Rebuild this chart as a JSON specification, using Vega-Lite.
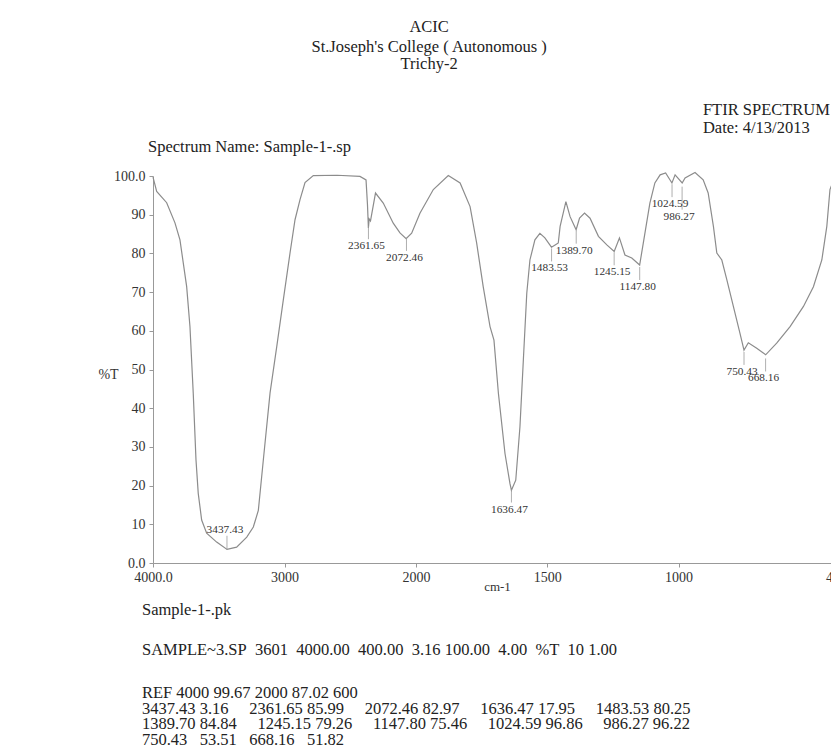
{
  "$schema": "https://vega.github.io/schema/vega-lite/v6.json",
  "autosize": {"type": "none"},
  "width": 678,
  "height": 387,
  "padding": {"left": 153, "top": 176, "right": 0, "bottom": 189},
  "background": "white",
  "config": {
    "view": {"stroke": null},
    "font": "Liberation Serif",
    "axis": {
      "labelFont": "Liberation Serif",
      "labelColor": "#333",
      "labelFontSize": 14,
      "titleFont": "Liberation Serif",
      "titleFontWeight": "normal",
      "titleColor": "#333",
      "domainColor": "#999",
      "tickColor": "#999",
      "tickSize": 4,
      "grid": false,
      "labelOverlap": false,
      "labelFlush": false
    }
  },
  "datasets": {
    "curve": [
      {"wn": 4000, "t": 99.7}, {"wn": 3972, "t": 96.0}, {"wn": 3896, "t": 93.1}, {"wn": 3833, "t": 87.9},
      {"wn": 3795, "t": 83.5}, {"wn": 3744, "t": 71.4}, {"wn": 3719, "t": 61.1}, {"wn": 3694, "t": 43.9},
      {"wn": 3673, "t": 26.6}, {"wn": 3656, "t": 18.0}, {"wn": 3630, "t": 11.1}, {"wn": 3592, "t": 7.7},
      {"wn": 3516, "t": 5.4}, {"wn": 3437, "t": 3.5}, {"wn": 3364, "t": 4.1}, {"wn": 3287, "t": 6.7},
      {"wn": 3237, "t": 9.3}, {"wn": 3199, "t": 13.6}, {"wn": 3161, "t": 26.6}, {"wn": 3110, "t": 43.9},
      {"wn": 3059, "t": 55.9}, {"wn": 3009, "t": 68.0}, {"wn": 2958, "t": 80.1}, {"wn": 2920, "t": 88.7},
      {"wn": 2882, "t": 93.9}, {"wn": 2844, "t": 98.3}, {"wn": 2781, "t": 100.1}, {"wn": 2600, "t": 100.2},
      {"wn": 2426, "t": 99.9}, {"wn": 2380, "t": 99.0}, {"wn": 2369, "t": 92.6}, {"wn": 2362, "t": 86.6},
      {"wn": 2356, "t": 88.9}, {"wn": 2346, "t": 88.4}, {"wn": 2308, "t": 95.6}, {"wn": 2249, "t": 93.0},
      {"wn": 2173, "t": 87.8}, {"wn": 2122, "t": 85.3}, {"wn": 2075, "t": 83.8}, {"wn": 2033, "t": 85.2},
      {"wn": 1985, "t": 90.4}, {"wn": 1934, "t": 96.5}, {"wn": 1877, "t": 100.1}, {"wn": 1832, "t": 98.2},
      {"wn": 1794, "t": 92.1}, {"wn": 1769, "t": 82.7}, {"wn": 1744, "t": 71.4}, {"wn": 1718, "t": 61.1},
      {"wn": 1703, "t": 57.6}, {"wn": 1686, "t": 43.8}, {"wn": 1661, "t": 28.3}, {"wn": 1642, "t": 20.5},
      {"wn": 1636.5, "t": 18.8}, {"wn": 1620, "t": 21.4}, {"wn": 1604, "t": 35.2}, {"wn": 1591, "t": 52.5},
      {"wn": 1578, "t": 69.7}, {"wn": 1566, "t": 78.3}, {"wn": 1547, "t": 83.5}, {"wn": 1528, "t": 85.2},
      {"wn": 1509, "t": 84.0}, {"wn": 1484, "t": 81.6}, {"wn": 1470, "t": 82.2}, {"wn": 1458, "t": 82.7},
      {"wn": 1451, "t": 87.0}, {"wn": 1429, "t": 93.4}, {"wn": 1413, "t": 89.5}, {"wn": 1390, "t": 86.1},
      {"wn": 1377, "t": 89.1}, {"wn": 1358, "t": 90.4}, {"wn": 1337, "t": 89.1}, {"wn": 1305, "t": 84.4},
      {"wn": 1273, "t": 82.2}, {"wn": 1245, "t": 80.5}, {"wn": 1225, "t": 84.0}, {"wn": 1204, "t": 79.6},
      {"wn": 1178, "t": 78.8}, {"wn": 1148, "t": 77.0}, {"wn": 1134, "t": 82.7}, {"wn": 1109, "t": 93.0},
      {"wn": 1090, "t": 98.2}, {"wn": 1070, "t": 100.3}, {"wn": 1049, "t": 100.8}, {"wn": 1025, "t": 98.2},
      {"wn": 1013, "t": 100.3}, {"wn": 986, "t": 98.2}, {"wn": 975, "t": 99.5}, {"wn": 937, "t": 100.9},
      {"wn": 906, "t": 99.0}, {"wn": 887, "t": 95.6}, {"wn": 867, "t": 87.0}, {"wn": 854, "t": 80.1},
      {"wn": 835, "t": 78.3}, {"wn": 816, "t": 73.2}, {"wn": 791, "t": 66.3}, {"wn": 766, "t": 59.4},
      {"wn": 750.5, "t": 55.0}, {"wn": 734, "t": 56.9}, {"wn": 702, "t": 55.5}, {"wn": 668, "t": 53.8},
      {"wn": 626, "t": 56.8}, {"wn": 575, "t": 61.1}, {"wn": 524, "t": 66.3}, {"wn": 486, "t": 71.4},
      {"wn": 454, "t": 78.3}, {"wn": 435, "t": 87.0}, {"wn": 423, "t": 96.5}, {"wn": 400, "t": 100.5}
    ],
    "peaks": [
      {"wn": 3437.43, "t": 3.16, "label": "3437.43"},
      {"wn": 2361.65, "t": 85.99, "label": "2361.65"},
      {"wn": 2072.46, "t": 82.97, "label": "2072.46"},
      {"wn": 1636.47, "t": 17.95, "label": "1636.47"},
      {"wn": 1483.53, "t": 80.25, "label": "1483.53"},
      {"wn": 1389.70, "t": 84.84, "label": "1389.70"},
      {"wn": 1245.15, "t": 79.26, "label": "1245.15"},
      {"wn": 1147.80, "t": 75.46, "label": "1147.80"},
      {"wn": 1024.59, "t": 96.86, "label": "1024.59"},
      {"wn": 986.27, "t": 96.22, "label": "986.27"},
      {"wn": 750.43, "t": 53.51, "label": "750.43"},
      {"wn": 668.16, "t": 51.82, "label": "668.16"}
    ]
  },
  "layer": [
    {
      "data": {"name": "curve"},
      "mark": {"type": "line", "color": "#8c8c8c", "strokeWidth": 1.2},
      "encoding": {
        "x": {
          "field": "wn", "type": "quantitative",
          "scale": {"domain": [4000, 2000, 400], "range": [0, 263, 683], "nice": false, "zero": false},
          "axis": {
            "values": [4000, 3000, 2000, 1500, 1000, 400],
            "labelExpr": "datum.value == 4000 ? '4000.0' : format(datum.value, 'd')",
            "labelPadding": 3,
            "labelOverlap": false,
            "title": "cm-1",
            "titleFontSize": 13,
            "titleX": 344,
            "titleY": 23,
            "titleBaseline": "middle"
          }
        },
        "y": {
          "field": "t", "type": "quantitative",
          "scale": {"domain": [0, 100], "nice": false, "zero": false},
          "axis": {
            "values": [0, 10, 20, 30, 40, 50, 60, 70, 80, 90, 100],
            "tickCount": 11,
            "labelOverlap": false,
            "labelExpr": "datum.value == 0 || datum.value == 100 ? format(datum.value, '.1f') : format(datum.value, 'd')",
            "labelPadding": 4,
            "title": "%T",
            "titleAngle": 0,
            "titleFontSize": 14,
            "titleX": -45,
            "titleY": 198,
            "titleAlign": "center",
            "titleBaseline": "middle"
          }
        }
      }
    },
    {
      "data": {"name": "peaks"},
      "transform": [{"filter": "datum.wn != 3437.43 && datum.wn != 986.27"}],
      "mark": {"type": "rule", "color": "#9a9a9a", "strokeWidth": 0.8, "yOffset": -4, "y2Offset": 9},
      "encoding": {
        "x": {"field": "wn", "type": "quantitative"},
        "y": {"field": "t", "type": "quantitative"},
        "y2": {"field": "t"}
      }
    },
    {
      "data": {"name": "peaks"},
      "transform": [{"filter": "datum.wn == 986.27"}],
      "mark": {"type": "rule", "color": "#9a9a9a", "strokeWidth": 0.8, "yOffset": -4, "y2Offset": 19},
      "encoding": {
        "x": {"field": "wn", "type": "quantitative"},
        "y": {"field": "t", "type": "quantitative"},
        "y2": {"field": "t"}
      }
    },
    {
      "data": {"name": "peaks"},
      "transform": [{"filter": "datum.wn == 3437.43"}],
      "mark": {"type": "rule", "color": "#9a9a9a", "strokeWidth": 0.8, "yOffset": -15, "y2Offset": -1},
      "encoding": {
        "x": {"field": "wn", "type": "quantitative"},
        "y": {"field": "t", "type": "quantitative"},
        "y2": {"field": "t"}
      }
    },
    {
      "data": {"name": "peaks"},
      "transform": [{"filter": "datum.wn != 3437.43 && datum.wn != 986.27"}],
      "mark": {"type": "text", "font": "Liberation Serif", "fontSize": 11.3, "color": "#333", "dy": 16, "dx": -2, "baseline": "middle", "align": "center"},
      "encoding": {
        "x": {"field": "wn", "type": "quantitative"},
        "y": {"field": "t", "type": "quantitative"},
        "text": {"field": "label"}
      }
    },
    {
      "data": {"name": "peaks"},
      "transform": [{"filter": "datum.wn == 986.27"}],
      "mark": {"type": "text", "font": "Liberation Serif", "fontSize": 11.3, "color": "#333", "dy": 26, "dx": -3, "baseline": "middle", "align": "center"},
      "encoding": {
        "x": {"field": "wn", "type": "quantitative"},
        "y": {"field": "t", "type": "quantitative"},
        "text": {"field": "label"}
      }
    },
    {
      "data": {"name": "peaks"},
      "transform": [{"filter": "datum.wn == 3437.43"}],
      "mark": {"type": "text", "font": "Liberation Serif", "fontSize": 11.3, "color": "#333", "dy": -21, "dx": -2, "baseline": "middle", "align": "center"},
      "encoding": {
        "x": {"field": "wn", "type": "quantitative"},
        "y": {"field": "t", "type": "quantitative"},
        "text": {"field": "label"}
      }
    },
    {
      "data": {"values": [{}]},
      "mark": {"type": "text", "text": "ACIC", "font": "Liberation Serif", "fontSize": 16.5, "color": "#222", "align": "center", "baseline": "middle"},
      "encoding": {"x": {"datum": 1950, "type": "quantitative"}, "y": {"datum": 138.58, "type": "quantitative"}}
    },
    {
      "data": {"values": [{}]},
      "mark": {"type": "text", "text": "St.Joseph's College ( Autonomous )", "font": "Liberation Serif", "fontSize": 16.5, "color": "#222", "align": "center", "baseline": "middle"},
      "encoding": {"x": {"datum": 1950, "type": "quantitative"}, "y": {"datum": 133.41, "type": "quantitative"}}
    },
    {
      "data": {"values": [{}]},
      "mark": {"type": "text", "text": "Trichy-2", "font": "Liberation Serif", "fontSize": 16.5, "color": "#222", "align": "center", "baseline": "middle"},
      "encoding": {"x": {"datum": 1950, "type": "quantitative"}, "y": {"datum": 128.9, "type": "quantitative"}}
    },
    {
      "data": {"values": [{}]},
      "mark": {"type": "text", "text": "FTIR SPECTRUM", "font": "Liberation Serif", "fontSize": 16.5, "color": "#222", "align": "left", "baseline": "middle"},
      "encoding": {"x": {"datum": 907, "type": "quantitative"}, "y": {"datum": 117.05, "type": "quantitative"}}
    },
    {
      "data": {"values": [{}]},
      "mark": {"type": "text", "text": "Date: 4/13/2013", "font": "Liberation Serif", "fontSize": 16.5, "color": "#222", "align": "left", "baseline": "middle"},
      "encoding": {"x": {"datum": 907, "type": "quantitative"}, "y": {"datum": 112.33, "type": "quantitative"}}
    },
    {
      "data": {"values": [{}]},
      "mark": {"type": "text", "text": "Spectrum Name: Sample-1-.sp", "font": "Liberation Serif", "fontSize": 16.5, "color": "#222", "align": "left", "baseline": "middle"},
      "encoding": {"x": {"datum": 4038, "type": "quantitative"}, "y": {"datum": 107.57, "type": "quantitative"}}
    },
    {
      "data": {"values": [{}]},
      "mark": {"type": "text", "text": "Sample-1-.pk", "font": "Liberation Serif", "fontSize": 16.5, "color": "#222", "align": "left", "baseline": "middle"},
      "encoding": {"x": {"datum": 4084, "type": "quantitative"}, "y": {"datum": -12.02, "type": "quantitative"}}
    },
    {
      "data": {"values": [{}]},
      "mark": {"type": "text", "text": "SAMPLE~3.SP\u00a0 3601\u00a0 4000.00\u00a0 400.00\u00a0 3.16 100.00\u00a0 4.00\u00a0 %T\u00a0 10 1.00", "font": "Liberation Serif", "fontSize": 16.5, "color": "#222", "align": "left", "baseline": "middle"},
      "encoding": {"x": {"datum": 4084, "type": "quantitative"}, "y": {"datum": -22.38, "type": "quantitative"}}
    },
    {
      "data": {"values": [{}]},
      "mark": {"type": "text", "text": "REF 4000 99.67 2000 87.02 600", "font": "Liberation Serif", "fontSize": 16.5, "color": "#222", "align": "left", "baseline": "middle"},
      "encoding": {"x": {"datum": 4084, "type": "quantitative"}, "y": {"datum": -33.59, "type": "quantitative"}}
    },
    {
      "data": {"values": [{}]},
      "mark": {"type": "text", "text": "3437.43 3.16\u00a0\u00a0\u00a0\u00a0 2361.65 85.99\u00a0\u00a0\u00a0\u00a0 2072.46 82.97\u00a0\u00a0\u00a0\u00a0 1636.47 17.95\u00a0\u00a0\u00a0\u00a0 1483.53 80.25", "font": "Liberation Serif", "fontSize": 16.5, "color": "#222", "align": "left", "baseline": "middle"},
      "encoding": {"x": {"datum": 4084, "type": "quantitative"}, "y": {"datum": -37.65, "type": "quantitative"}}
    },
    {
      "data": {"values": [{}]},
      "mark": {"type": "text", "text": "1389.70 84.84\u00a0\u00a0\u00a0\u00a0 1245.15 79.26\u00a0\u00a0\u00a0\u00a0 1147.80 75.46\u00a0\u00a0\u00a0\u00a0 1024.59 96.86\u00a0\u00a0\u00a0\u00a0 986.27 96.22", "font": "Liberation Serif", "fontSize": 16.5, "color": "#222", "align": "left", "baseline": "middle"},
      "encoding": {"x": {"datum": 4084, "type": "quantitative"}, "y": {"datum": -41.6, "type": "quantitative"}}
    },
    {
      "data": {"values": [{}]},
      "mark": {"type": "text", "text": "750.43\u00a0\u00a0 53.51\u00a0\u00a0 668.16\u00a0\u00a0 51.82", "font": "Liberation Serif", "fontSize": 16.5, "color": "#222", "align": "left", "baseline": "middle"},
      "encoding": {"x": {"datum": 4084, "type": "quantitative"}, "y": {"datum": -45.74, "type": "quantitative"}}
    }
  ]
}
